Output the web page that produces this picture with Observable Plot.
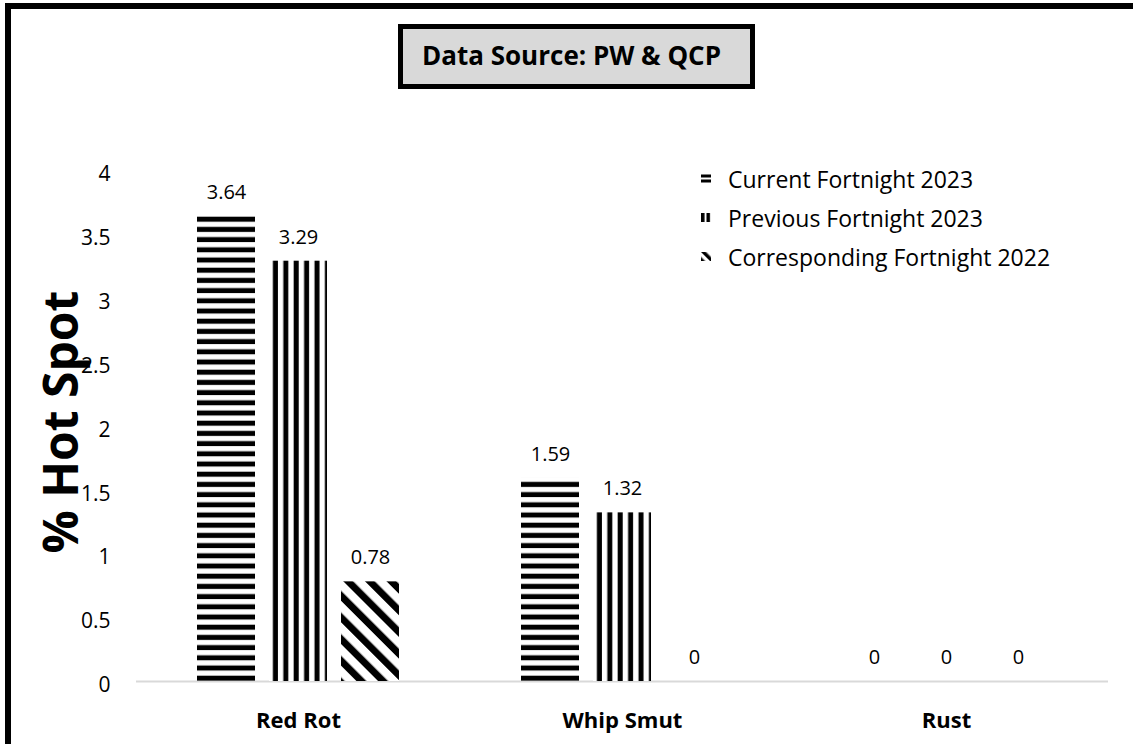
<!DOCTYPE html>
<html>
<head>
<meta charset="utf-8">
<script src="https://cdn.jsdelivr.net/npm/d3@7"></script>
<script src="https://cdn.jsdelivr.net/npm/@observablehq/plot@0.6"></script>
<style>
  html, body { margin: 0; padding: 0; background: #fff; overflow: hidden; }
  #wrap { position: relative; width: 1133px; height: 744px; overflow: hidden; font-family: "Open Sans", sans-serif; }
  #frame { position: absolute; left: 5px; top: 3px; width: 1300px; height: 900px; border: 6px solid #000; box-sizing: border-box; }
  #chart { position: absolute; left: 0; top: 0; }
  #title { position: absolute; left: 398px; top: 24px; width: 357px; height: 65px; box-sizing: border-box;
           border: 5px solid #000; background: #d9d9d9; font-weight: bold; font-size: 26px; line-height: 53px;
           padding-left: 19px; color: #000; }
  #ylabel { position: absolute; left: 60px; top: 422px; transform: translate(-50%, -50%) rotate(-90deg);
            font-weight: bold; font-size: 48px; line-height: 1; white-space: nowrap; color: #000; }
  #legend { position: absolute; left: 701px; top: 159px; font-size: 23px; color: #000; }
  #legend .row { height: 39px; display: flex; align-items: center; }
  #legend svg { margin-right: 17px; }
</style>
</head>
<body>
<div id="wrap">
  <div id="frame"></div>
  <div id="chart"></div>
  <div id="title">Data Source: PW &amp; QCP</div>
  <div id="ylabel">% Hot Spot</div>
  <div id="legend"></div>
</div>
<script>
// ---- data ----
const categories = ["Red Rot", "Whip Smut", "Rust"];
const seriesNames = ["Current Fortnight 2023", "Previous Fortnight 2023", "Corresponding Fortnight 2022"];
const currentFortnight2023 = [3.64, 1.59, 0];
const previousFortnight2023 = [3.29, 1.32, 0];
const correspondingFortnight2022 = [0.78, 0, 0];
const yTicks = [0, 0.5, 1, 1.5, 2, 2.5, 3, 3.5, 4];
const yTickLabels = ["0", "0.5", "1", "1.5", "2", "2.5", "3", "3.5", "4"];
const yLabel = "% Hot Spot";

const seriesValues = [currentFortnight2023, previousFortnight2023, correspondingFortnight2022];
const patternIds = ["p-horiz", "p-vert", "p-diag"];
const legendPatternIds = ["l-horiz", "l-vert", "l-diag"];

const rows = [];
categories.forEach((c, ci) => {
  seriesNames.forEach((s, si) => {
    rows.push({category: c, series: s, value: seriesValues[si][ci], pattern: `url(#${patternIds[si]})`});
  });
});
const tickLabelMap = new Map(yTicks.map((t, i) => [t, yTickLabels[i]]));

const chart = Plot.plot({
  width: 1133,
  height: 744,
  marginTop: 170,
  marginBottom: 63,
  marginLeft: 136,
  marginRight: 25,
  style: {fontFamily: "Open Sans, sans-serif", background: "transparent", color: "#000", overflow: "visible"},
  fx: {domain: categories, padding: 0, label: null},
  x: {domain: seriesNames, paddingInner: 0.194, paddingOuter: 0.847, axis: null},
  y: {domain: [0, 4], label: null},
  color: {type: "identity"},
  marks: [
    Plot.axisY({ticks: yTicks, tickFormat: d => tickLabelMap.get(d), tickSize: 0, tickPadding: 26,
                fontSize: 21, dy: 4, label: null}),
    Plot.axisFx({anchor: "bottom", tickSize: 0, tickPadding: 31, fontSize: 22, fontWeight: "bold", label: null}),
    Plot.ruleY([0], {stroke: "#d9d9d9", strokeWidth: 2}),
    Plot.barY(rows, {fx: "category", x: "series", y: "value", fill: "pattern"}),
    Plot.text(rows, {fx: "category", x: "series", y: "value", text: d => String(d.value), dy: -24,
                     fontSize: 20, fill: "#000"})
  ]
});

// patterns
const ns = "http://www.w3.org/2000/svg";
const defs = document.createElementNS(ns, "defs");
defs.innerHTML = `
  <pattern id="p-horiz" patternUnits="userSpaceOnUse" width="10" height="10.2">
    <rect x="0" y="0" width="10" height="10.2" fill="#fff"/>
    <rect x="0" y="2.5" width="10" height="5" fill="#000"/>
  </pattern>
  <pattern id="p-vert" patternUnits="userSpaceOnUse" width="10.4" height="10">
    <rect x="0" y="0" width="10.4" height="10" fill="#fff"/>
    <rect x="2.5" y="0" width="5" height="10" fill="#000"/>
  </pattern>
  <pattern id="p-diag" patternUnits="userSpaceOnUse" width="15.3" height="15.3" patternTransform="rotate(-45)">
    <rect x="0" y="0" width="15.3" height="15.3" fill="#fff"/>
    <rect x="0" y="0" width="7" height="15.3" fill="#000"/>
  </pattern>
  <pattern id="l-horiz" patternUnits="userSpaceOnUse" width="10" height="5">
    <rect x="0" y="0" width="10" height="5" fill="#fff"/>
    <rect x="0" y="0.5" width="10" height="3" fill="#000"/>
  </pattern>
  <pattern id="l-vert" patternUnits="userSpaceOnUse" width="5.5" height="10">
    <rect x="0" y="0" width="5.5" height="10" fill="#fff"/>
    <rect x="0" y="0" width="3.5" height="10" fill="#000"/>
  </pattern>
  <pattern id="l-diag" patternUnits="userSpaceOnUse" width="7" height="7" patternTransform="rotate(-45)">
    <rect x="0" y="0" width="7" height="7" fill="#fff"/>
    <rect x="0" y="0" width="3.5" height="7" fill="#000"/>
  </pattern>`;
chart.insertBefore(defs, chart.firstChild);
document.getElementById("chart").appendChild(chart);

// legend
const legend = document.getElementById("legend");
seriesNames.forEach((s, i) => {
  const row = document.createElement("div");
  row.className = "row";
  row.innerHTML = `<svg width="10" height="9"><rect width="10" height="9" fill="url(#${legendPatternIds[i]})"/></svg><span>${s}</span>`;
  legend.appendChild(row);
});
document.getElementById("ylabel").textContent = yLabel;
</script>
</body>
</html>
